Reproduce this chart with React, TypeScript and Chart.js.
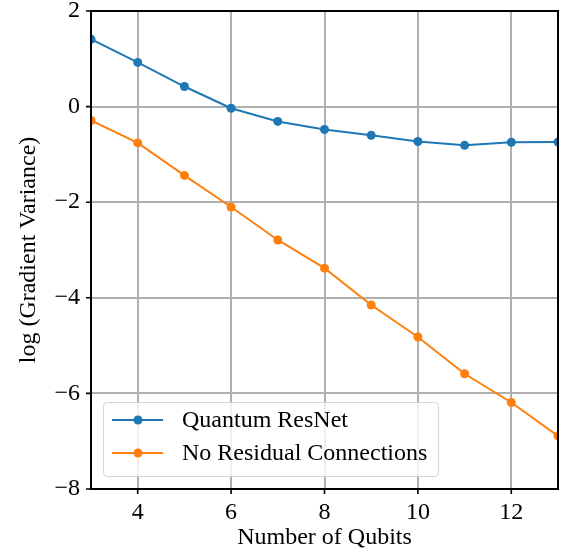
import React, { useEffect, useRef } from "react";
import { Chart, registerables } from "chart.js";

Chart.register(...registerables);

const qubits = [3, 4, 5, 6, 7, 8, 9, 10, 11, 12, 13];
const resnetValues = [1.41, 0.925, 0.42, -0.035, -0.31, -0.48, -0.6, -0.73, -0.81, -0.745, -0.74];
const noResidualValues = [-0.29, -0.76, -1.44, -2.1, -2.79, -3.38, -4.15, -4.82, -5.59, -6.19, -6.89];
const seriesNames = ["Quantum ResNet", "No Residual Connections"];
const seriesColors = ["#1f77b4", "#ff7f0e"];
const xTicks = [4, 6, 8, 10, 12];
const yTicks = [-8, -6, -4, -2, 0, 2];
const yTickLabels = ["\u22128", "\u22126", "\u22124", "\u22122", "0", "2"];
const xTitle = "Number of Qubits";
const yTitle = "log (Gradient Variance)";

const FONT = "'Liberation Serif', 'Times New Roman', serif";

const framePlugin = {
  id: "framePlugin",
  afterDatasetsDraw(chart: any) {
    const { ctx, chartArea } = chart;
    const { left, right, top, bottom } = chartArea;
    const xs = chart.scales.x;
    const ys = chart.scales.y;
    ctx.save();
    // tick marks
    ctx.strokeStyle = "#000";
    ctx.lineWidth = 1.6;
    ctx.beginPath();
    for (const v of xTicks) {
      const px = xs.getPixelForValue(v);
      ctx.moveTo(px, bottom);
      ctx.lineTo(px, bottom + 5);
    }
    for (const v of yTicks) {
      const py = ys.getPixelForValue(v);
      ctx.moveTo(left - 5, py);
      ctx.lineTo(left, py);
    }
    ctx.stroke();
    // frame
    ctx.lineWidth = 2;
    ctx.strokeRect(left, top, right - left, bottom - top);

    // legend
    const lx = left + 12;
    const ly = bottom - 87;
    const lw = 335;
    const lh = 74;
    ctx.beginPath();
    if ((ctx as any).roundRect) {
      (ctx as any).roundRect(lx + 0.5, ly + 0.5, lw, lh, 4);
    } else {
      ctx.rect(lx + 0.5, ly + 0.5, lw, lh);
    }
    ctx.fillStyle = "rgba(255,255,255,0.8)";
    ctx.fill();
    ctx.strokeStyle = "rgba(204,204,204,0.8)";
    ctx.lineWidth = 1;
    ctx.stroke();

    ctx.font = `24px ${FONT}`;
    ctx.textBaseline = "middle";
    ctx.textAlign = "left";
    seriesNames.forEach((name, i) => {
      const cy = ly + 18 + i * 33;
      ctx.strokeStyle = seriesColors[i];
      ctx.lineWidth = 2;
      ctx.beginPath();
      ctx.moveTo(lx + 9, cy);
      ctx.lineTo(lx + 60, cy);
      ctx.stroke();
      ctx.fillStyle = seriesColors[i];
      ctx.beginPath();
      ctx.arc(lx + 35, cy, 4.5, 0, Math.PI * 2);
      ctx.fill();
      ctx.fillStyle = "#000";
      ctx.fillText(name, lx + 79, cy + 1);
    });
    ctx.restore();
  },
};

export default function App() {
  const canvasRef = useRef<HTMLCanvasElement | null>(null);

  useEffect(() => {
    if (!canvasRef.current) return;
    const makeData = (vals: number[]) => qubits.map((q, i) => ({ x: q, y: vals[i] }));
    const chart = new Chart(canvasRef.current, {
      type: "line",
      data: {
        datasets: [
          {
            label: seriesNames[0],
            data: makeData(resnetValues),
            borderColor: seriesColors[0],
            backgroundColor: seriesColors[0],
            borderWidth: 2,
            pointRadius: 4.5,
            pointHoverRadius: 4.5,
            pointBorderWidth: 0,
            clip: 0,
            tension: 0,
          },
          {
            label: seriesNames[1],
            data: makeData(noResidualValues),
            borderColor: seriesColors[1],
            backgroundColor: seriesColors[1],
            borderWidth: 2,
            pointRadius: 4.5,
            pointHoverRadius: 4.5,
            pointBorderWidth: 0,
            clip: 0,
            tension: 0,
          },
        ],
      },
      options: {
        responsive: false,
        animation: false,
        layout: { padding: { top: 11, right: 8, left: 0, bottom: 0 } },
        plugins: {
          legend: { display: false },
          tooltip: { enabled: false },
          title: { display: false },
        },
        scales: {
          x: {
            type: "linear",
            min: 3,
            max: 13,
            afterBuildTicks: (s: any) => {
              s.ticks = xTicks.map((v) => ({ value: v }));
            },
            afterFit: (s: any) => {
              s.height = 67;
              s.paddingLeft = 0;
              s.paddingRight = 0;
            },
            grid: { color: "#b0b0b0", lineWidth: 2, drawTicks: false },
            border: { display: false },
            ticks: {
              color: "#000",
              padding: 9,
              maxRotation: 0,
              font: { family: FONT, size: 24 },
              callback: (v: any) => String(v),
            },
            title: {
              display: true,
              text: xTitle,
              color: "#000",
              font: { family: FONT, size: 24, lineHeight: 1 },
              padding: { top: 0, bottom: 6 },
            },
          },
          y: {
            type: "linear",
            min: -8,
            max: 2,
            afterBuildTicks: (s: any) => {
              s.ticks = yTicks.map((v) => ({ value: v }));
            },
            afterFit: (s: any) => {
              s.width = 91;
              s.paddingTop = 0;
              s.paddingBottom = 0;
            },
            grid: { color: "#b0b0b0", lineWidth: 2, drawTicks: false },
            border: { display: false },
            ticks: {
              color: "#000",
              padding: 11,
              font: { family: FONT, size: 24, lineHeight: 1 },
              callback: (v: any) => {
                const idx = yTicks.indexOf(Number(v));
                return idx >= 0 ? yTickLabels[idx] : "";
              },
            },
            title: {
              display: true,
              text: yTitle,
              color: "#000",
              font: { family: FONT, size: 24, lineHeight: 1 },
              padding: { top: 17, bottom: 0 },
            },
          },
        },
      },
      plugins: [framePlugin],
    });
    return () => chart.destroy();
  }, []);

  return (
    <div style={{ position: "absolute", left: 0, top: 0, width: 566, height: 556, background: "#fff" }}>
      <canvas ref={canvasRef} width={566} height={556} style={{ display: "block" }} />
    </div>
  );
}
